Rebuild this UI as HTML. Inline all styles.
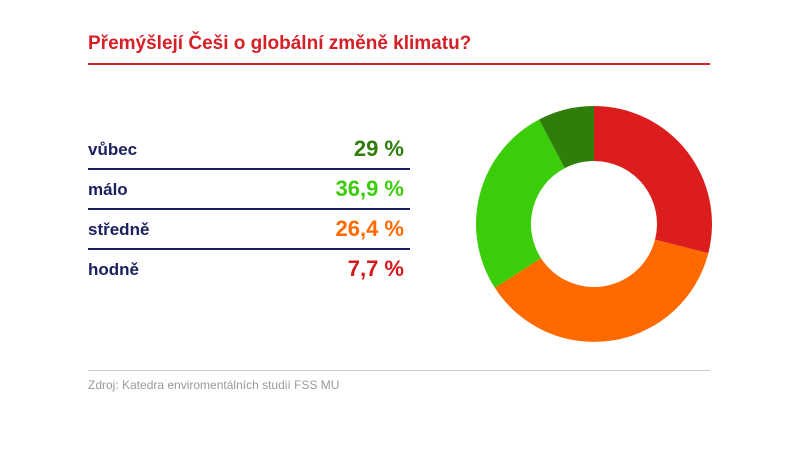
<!DOCTYPE html><html><head><style>
body{margin:0;width:800px;height:449px;background:#fff;font-family:"Liberation Sans",sans-serif;position:relative;overflow:hidden}
.t{position:absolute;left:88px;top:33px;font-size:19px;font-weight:bold;color:#d42027}
.hr{position:absolute;left:88px;width:622px;top:63px;height:2px;background:#d42027}
.row{position:absolute;left:88px;width:318px;height:40px;}
.row .l{position:absolute;left:0;bottom:8px;font-size:17px;font-weight:bold;color:#1a1f5e}
.row .v{position:absolute;right:2px;bottom:6px;font-size:22px;font-weight:bold}
.sep{position:absolute;left:88px;width:322px;height:2px;background:#1a1f5e}
.g{position:absolute;left:88px;width:622px;top:370px;height:1px;background:#ccc}
.s{position:absolute;left:88px;top:378px;font-size:12px;color:#9a9a9a}
</style></head><body>
<div class="t">Přemýšlejí Češi o globální změně klimatu?</div>
<div class="hr"></div>
<div class="row" style="top:128px"><span class="l">vůbec</span><span class="v" style="color:#2f7d0a">29 %</span></div>
<div class="sep" style="top:168px"></div>
<div class="row" style="top:168px"><span class="l">málo</span><span class="v" style="color:#3ccd0a">36,9 %</span></div>
<div class="sep" style="top:208px"></div>
<div class="row" style="top:208px"><span class="l">středně</span><span class="v" style="color:#ff6a00">26,4 %</span></div>
<div class="sep" style="top:248px"></div>
<div class="row" style="top:248px"><span class="l">hodně</span><span class="v" style="color:#d4191e">7,7 %</span></div>
<svg style="position:absolute;left:0;top:0" width="800" height="449">
<path fill="#dc1d1d" d="M594 106 A118 118 0 0 1 708.3 253.3 L655 239.7 A63 63 0 0 0 594 161 Z"/>
<path fill="#ff6a00" d="M708.3 253.3 A118 118 0 0 1 494.8 287.8 L541 258.1 A63 63 0 0 0 655 239.7 Z"/>
<path fill="#3ccd0a" d="M494.8 287.8 A118 118 0 0 1 539.1 119.5 L564.7 168.2 A63 63 0 0 0 541 258.1 Z"/>
<path fill="#2f7d0a" d="M539.1 119.5 A118 118 0 0 1 594 106 L594 161 A63 63 0 0 0 564.7 168.2 Z"/>
</svg>
<div class="g"></div>
<div class="s">Zdroj: Katedra enviromentálních studií FSS MU</div>
</body></html>
